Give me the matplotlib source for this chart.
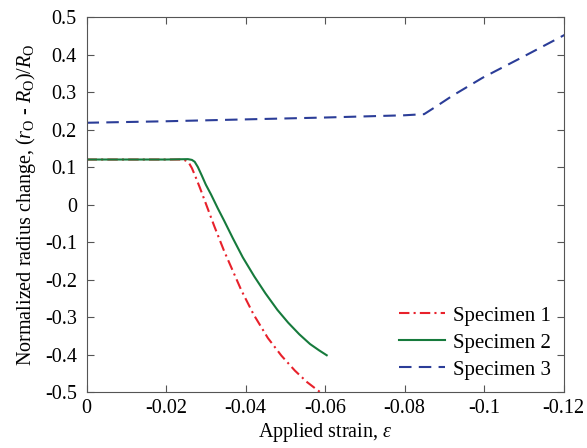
import numpy as np
import matplotlib
matplotlib.use("Agg")
import matplotlib.pyplot as plt

plt.rcParams['font.family'] = ['Liberation Serif', 'DejaVu Serif']
plt.rcParams['mathtext.fontset'] = 'custom'
plt.rcParams['mathtext.rm'] = 'Liberation Serif'
plt.rcParams['mathtext.it'] = 'Liberation Serif:italic'
plt.rcParams['axes.unicode_minus'] = False

# specimen 1 (red, dash-dot)
s1_x = [0, -0.010, -0.020, -0.0235, -0.0245, -0.0252, -0.0258, -0.0265, -0.0273, -0.0285,
        -0.0296, -0.0321, -0.0346, -0.0389, -0.0420, -0.0456, -0.0490, -0.0524, -0.0555, -0.0587]
s1_y = [0.12, 0.12, 0.12, 0.12, 0.119, 0.116, 0.110, 0.097, 0.077, 0.045,
        0.014, -0.057, -0.124, -0.228, -0.293, -0.356, -0.403, -0.443, -0.474, -0.50]
# specimen 2 (green, solid)
s2_x = [0, -0.010, -0.020, -0.0255, -0.0265, -0.0272, -0.0280, -0.0290, -0.0300, -0.0313,
        -0.0330, -0.0346, -0.0368, -0.0393, -0.0422, -0.0450, -0.0480, -0.0507, -0.0535,
        -0.0562, -0.0585, -0.0604]
s2_y = [0.12, 0.12, 0.12, 0.121, 0.119, 0.114, 0.100, 0.077, 0.053, 0.027,
        -0.010, -0.043, -0.090, -0.141, -0.192, -0.237, -0.281, -0.315, -0.346,
        -0.372, -0.389, -0.402]
# specimen 3 (blue, dashed)
s3_x = [0, -0.02, -0.04, -0.06, -0.08, -0.0849, -0.088, -0.092, -0.0996, -0.1098, -0.1207]
s3_y = [0.218, 0.222, 0.227, 0.232, 0.238, 0.241, 0.262, 0.290, 0.338, 0.394, 0.455]

fig = plt.figure(figsize=(5.87, 4.48), dpi=100)
ax = fig.add_axes([0.1474, 0.125, 0.8129, 0.837])

ax.plot(s1_x, s1_y, color='#e8212b', ls=(0, (5, 2, 1, 2)), lw=1.5, label='Specimen 1')
ax.plot(s2_x, s2_y, color='#167a3c', ls='-', lw=1.5, label='Specimen 2')
ax.plot(s3_x, s3_y, color='#2b3d98', ls=(0, (6, 3.5)), lw=1.5, label='Specimen 3')

ax.set_xlim(0, -0.12)
ax.set_ylim(-0.5, 0.5)
ax.set_xticks([0, -0.02, -0.04, -0.06, -0.08, -0.1, -0.12])
ax.set_xticklabels(['0', '-0.02', '-0.04', '-0.06', '-0.08', '-0.1', '-0.12'])
ax.set_yticks(np.round(np.arange(-0.5, 0.51, 0.1), 1))
ax.set_yticklabels(['-0.5', '-0.4', '-0.3', '-0.2', '-0.1', '0', '0.1', '0.2', '0.3', '0.4', '0.5'])
ax.tick_params(direction='in', top=True, right=True, labelsize=14.5, length=5, color='#555555')
ax.tick_params(axis='y', pad=7)
ax.tick_params(axis='x', pad=5)
for sp in ax.spines.values():
    sp.set_color('#555555')
    sp.set_linewidth(0.8)

ax.set_xlabel(r'Applied strain, $\varepsilon$', fontsize=14.5, labelpad=2)
ax.set_ylabel(r'Normalized radius change, ($r_{\mathrm{O}}$ - $R_{\mathrm{O}}$)/$R_{\mathrm{O}}$',
              fontsize=14.5, labelpad=5)

ax.legend(loc='lower right', frameon=False, fontsize=15, handlelength=2.2,
          handletextpad=0.4, labelspacing=0.35, borderaxespad=0.2)

fig.savefig('out.png', dpi=100)
